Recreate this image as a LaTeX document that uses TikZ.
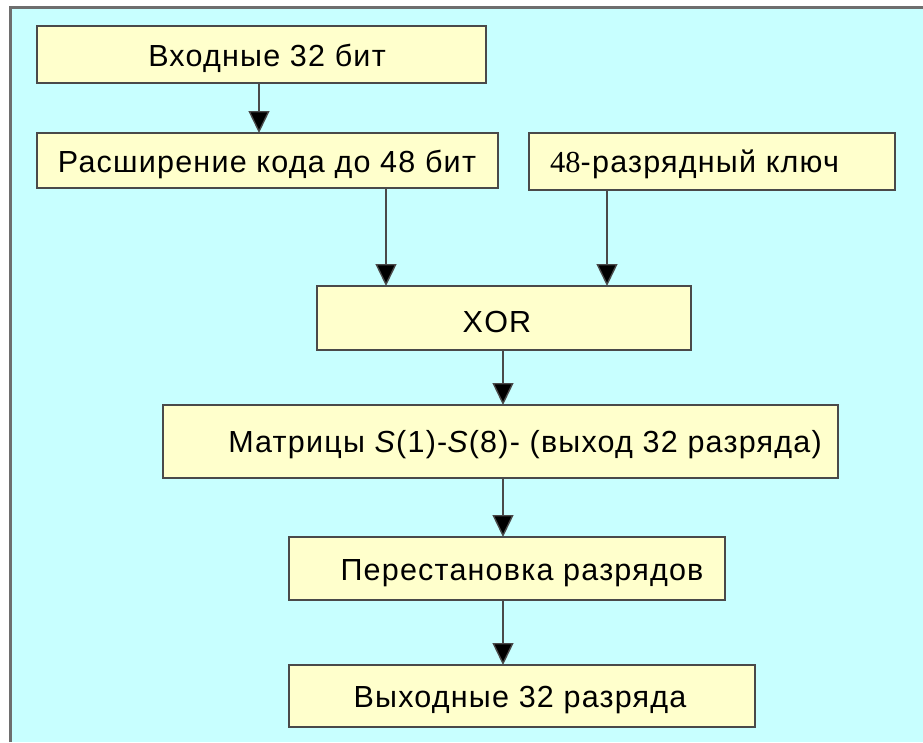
\documentclass[tikz,border=0pt]{standalone}
\usepackage{fontspec}
\setmainfont{Liberation Sans}
\newfontfamily\numserif{Liberation Serif}
\usetikzlibrary{arrows.meta}
\definecolor{panelcyan}{HTML}{C8FFFF}
\definecolor{boxfill}{HTML}{FFFFCC}
\definecolor{boxline}{HTML}{4A4A4A}
\definecolor{framegray}{HTML}{6E6E6E}
\begin{document}
\begin{tikzpicture}[x=1pt,y=-1pt,
  blk/.style={draw=boxline,line width=1.6pt,fill=boxfill},
  lbl/.style={font=\fontsize{30.5}{36}\selectfont\addfontfeature{LetterSpace=4},text=black,inner sep=0pt,anchor=base},
  flow/.style={draw=boxline,line width=1.4pt,-{Triangle[width=21pt,length=22pt,fill=black]}}]
  \useasboundingbox (0,0) rectangle (923,742);
  % panel with its frame on the top and left sides
  \fill[white] (0,0) rectangle (923,742);
  \fill[panelcyan] (10,7) rectangle (923,742);
  \draw[framegray,line width=3pt] (10,742) -- (10,7) -- (923,7);

  % blocks
  \path[blk] (37,26) rectangle (486,83);
  \path[blk] (37,133) rectangle (498,188);
  \path[blk] (529,133) rectangle (895,190);
  \path[blk] (317,286) rectangle (691,350);
  \path[blk] (163,405) rectangle (838,478);
  \path[blk] (289,537) rectangle (725,600);
  \path[blk] (289,665) rectangle (755,727);

  % named anchors for the connectors
  \coordinate (inB) at (259,83);
  \coordinate (expT) at (259,133);
  \coordinate (expB) at (386,188);
  \coordinate (keyB) at (607,190);
  \coordinate (xorTa) at (386,286);
  \coordinate (xorTb) at (607,286);
  \coordinate (xorB) at (503,350);
  \coordinate (sT) at (503,405);
  \coordinate (sB) at (503,478);
  \coordinate (pT) at (503,537);
  \coordinate (pB) at (503,600);
  \coordinate (oT) at (503,665);

  % texts
  \node[lbl] (t1) at (267,66) {Входные 32 бит};
  \node[lbl] (t2) at (267,172) {Расширение кода до 48 бит};
  \node[lbl,anchor=base west] (t3) at (550,172) {{\numserif 48}-разрядный ключ};
  \node[lbl] (t4) at (497,332) {XOR};
  \node[lbl] (t5) at (525,452) {Матрицы \textit{S}(1)-\textit{S}(8)- (выход 32 разряда)};
  \node[lbl] (t6) at (522,580) {Перестановка разрядов};
  \node[lbl] (t7) at (520,707) {Выходные 32 разряда};

  % connectors
  \draw[flow] (inB) -- (expT);
  \draw[flow] (expB) -- (xorTa);
  \draw[flow] (keyB) -- (xorTb);
  \draw[flow] (xorB) -- (sT);
  \draw[flow] (sB) -- (pT);
  \draw[flow] (pB) -- (oT);
\end{tikzpicture}
\end{document}
